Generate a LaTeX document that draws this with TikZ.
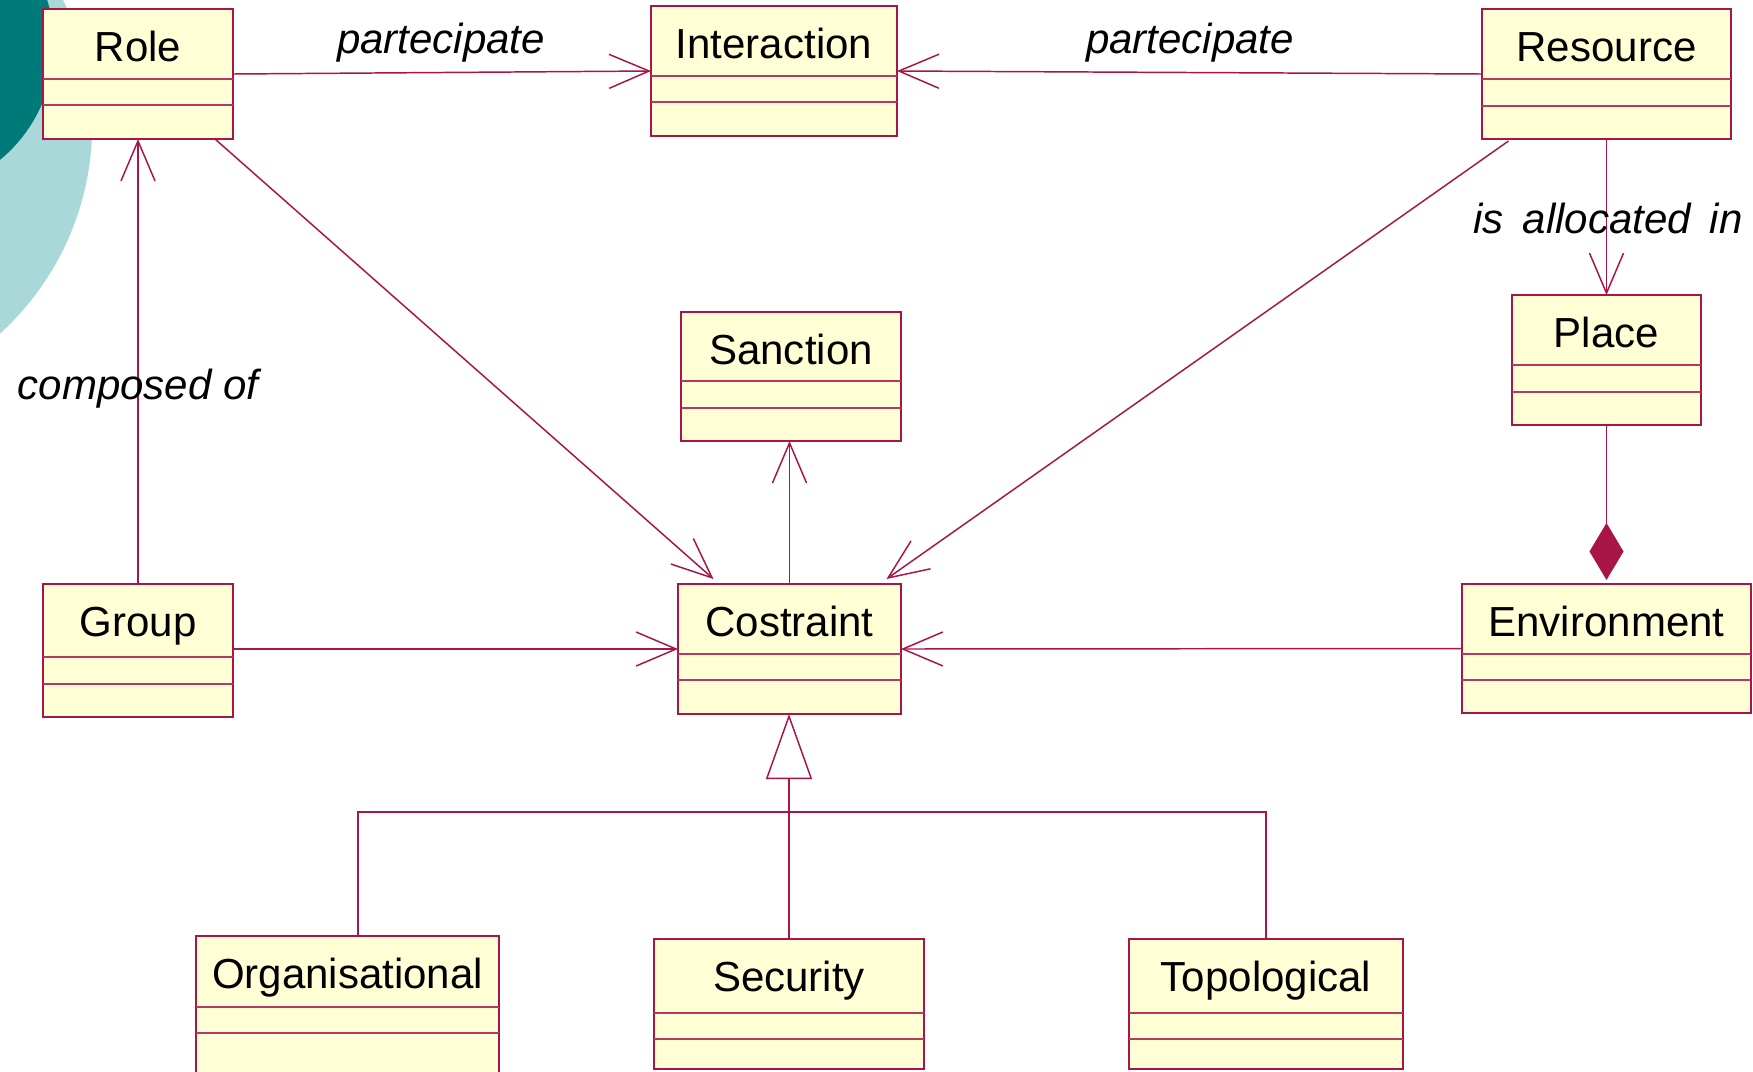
\documentclass[tikz,border=0pt]{standalone}
\usepackage{fontspec}
\setmainfont{Liberation Sans}
\usetikzlibrary{arrows.meta,fit,calc}

\definecolor{umlred}{RGB}{168,22,72}
\definecolor{umlfill}{RGB}{255,254,212}
\definecolor{tealdark}{RGB}{0,122,120}
\definecolor{teallight}{RGB}{168,216,216}

\tikzset{
  classbox/.style={draw=umlred, fill=umlfill, line width=0.55pt, inner sep=0pt, outer sep=0pt},
  divider/.style={draw=umlred!85, line width=0.4pt},
  classname/.style={anchor=base, inner sep=0pt, font=\fontsize{11.95}{14}\selectfont},
  rolelabel/.style={anchor=base, inner sep=0pt, font=\fontsize{11.95}{14}\selectfont\itshape},
  conn/.style={draw=umlred, line width=0.42pt},
  assoc/.style={conn, -{Straight Barb[length=4mm,width=3.4mm]}},
  composition/.style={conn, shorten >=0.4mm, -{Diamond[length=5.7mm,width=3.4mm,fill=umlred]}},
  generalization/.style={conn, -{Triangle[open,length=6.5mm,width=4.6mm]}},
}

% #1 name, #2 left, #3 top, #4 right, #5 bottom, #6/#7 compartment dividers, #8 class name
\newcommand\umlclass[8]{%
  \node[classbox, fit={(#2,#3) (#4,#5)}] (#1) {};
  \draw[divider] (#2,#6) -- (#4,#6);
  \draw[divider] (#2,#7) -- (#4,#7);
  \node[classname] (#1-name) at ($(#1.north)+(0,52)$) {#8};
}

\begin{document}
\begin{tikzpicture}[x=0.01cm, y=-0.01cm]
  \clip (0,0) rectangle (1753,1072);
  \fill[white] (0,0) rectangle (1753,1072);

  % decorative discs in the corner
  \fill[teallight] (-190,125) circle[radius=2.82cm];
  \fill[tealdark] (-95,45) circle[radius=1.49cm];

  % classes
  \umlclass{role}{43}{9}{233}{139}{79}{105}{Role}
  \umlclass{interaction}{651}{6}{897}{136}{76}{102}{Interaction}
  \umlclass{resource}{1482}{9}{1731}{139}{79}{106}{Resource}
  \umlclass{place}{1512}{295}{1701}{425}{365}{392}{Place}
  \umlclass{sanction}{681}{312}{901}{441}{381}{408}{Sanction}
  \umlclass{costraint}{678}{584}{901}{714}{654}{680}{Costraint}
  \umlclass{group}{43}{584}{233}{717}{657}{684}{Group}
  \umlclass{environment}{1462}{584}{1751}{713}{654}{680}{Environment}
  \umlclass{organisational}{196}{936}{499}{1085}{1007}{1033}{Organisational}
  \umlclass{security}{654}{939}{924}{1069}{1013}{1039}{Security}
  \umlclass{topological}{1129}{939}{1403}{1069}{1013}{1039}{Topological}

  % associations
  \draw[assoc] (role.east) -- (interaction.west);
  \draw[assoc] (resource.west) -- (interaction.east);
  \draw[assoc] ($(role.south)+(77,0)$) -- ($(costraint.north)+(-76,-5)$);
  \draw[assoc] ($(resource.south)+(-98,2)$) -- ($(costraint.north)+(97,-5)$);
  \draw[assoc] (group.north) -- (role.south);
  \draw[assoc] ($(group.east)+(0,-1.5)$) -- (costraint.west);
  \draw[assoc] (environment.west) -- (costraint.east);
  \draw[assoc] (costraint.north) -- (costraint.north |- sanction.south);
  \draw[assoc] (resource.south) -- (place.north);

  % composition
  \draw[composition] (place.south) -- (environment.north);

  % generalization
  \coordinate (genbar) at (790,812);
  \draw[conn] ($(organisational.north)+(10.5,0)$) |- (genbar) -| (topological.north);
  \draw[generalization] (security.north) -- (security.north |- costraint.south);

  % association labels
  \node[rolelabel] (lbl-part1) at (441,53) {partecipate};
  \node[rolelabel] (lbl-part2) at (1190,53) {partecipate};
  \node[rolelabel] (lbl-alloc) at (1608,233) {is\hskip0.45em allocated\hskip0.45em in};
  \node[rolelabel] (lbl-comp) at (138,399) {composed of};
\end{tikzpicture}
\end{document}
